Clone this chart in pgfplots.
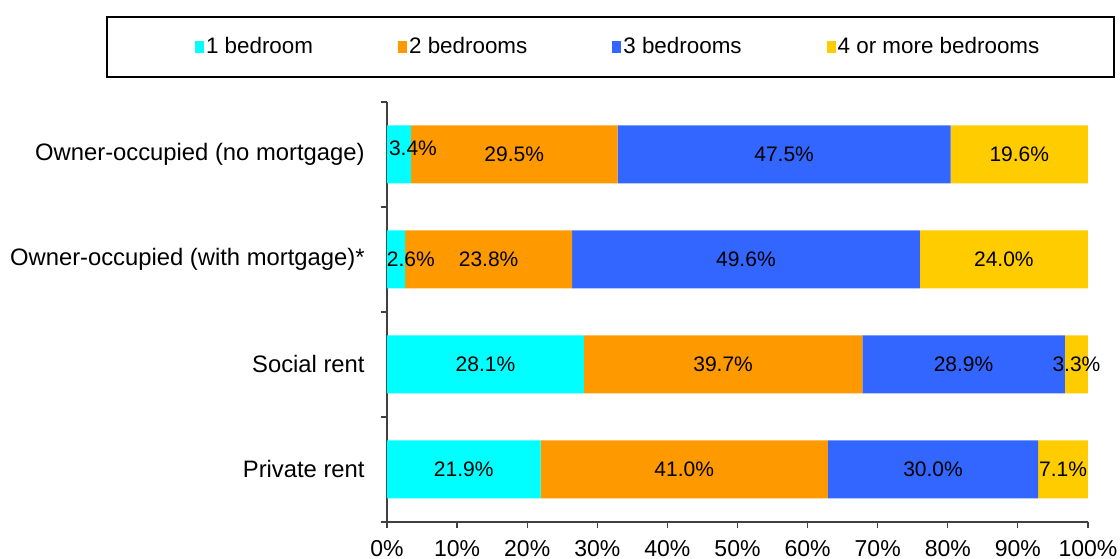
\documentclass[border=0pt]{standalone}
\usepackage{pgfplots}
\usepackage{pgfplotstable}
\pgfplotsset{compat=1.18}
\usepackage{fontspec}
\setmainfont{Liberation Sans}
\definecolor{c1}{RGB}{0,255,255}
\definecolor{c2}{RGB}{255,153,0}
\definecolor{c3}{RGB}{51,102,255}
\definecolor{c4}{RGB}{255,204,0}
\pgfplotsset{sq/.style={legend image code/.code={\fill[##1] (0pt,-3pt) rectangle (4.5pt,3pt);}}}
\pgfplotstableread{
y one two three four
0 21.9 41.0 30.0 7.1
1 28.1 39.7 28.9 3.3
2 2.6 23.8 49.6 24.0
3 3.4 29.5 47.5 19.6
}\data
\pgfplotstableread{
x y label
3.7 3.06 3.4\%
18.15 3 29.5\%
56.65 3 47.5\%
90.2 3 19.6\%
3.4 2 2.6\%
14.5 2 23.8\%
51.2 2 49.6\%
88.0 2 24.0\%
14.05 1 28.1\%
47.95 1 39.7\%
82.25 1 28.9\%
98.35 1 3.3\%
10.95 0 21.9\%
42.4 0 41.0\%
77.9 0 30.0\%
96.45 0 7.1\%
}\labels
\begin{document}
\begin{tikzpicture}
\begin{axis}[
  name=main,
  scale only axis, width=350.5pt, height=210pt,
  xbar stacked, bar width=29pt,
  xmin=0, xmax=100, ymin=-0.5, ymax=3.5,
  clip=false,
  axis x line*=bottom, axis y line*=left,
  axis line style={-, black!75, line width=0.6pt},
  xtick={0,10,...,100},
  xticklabels={0\%,10\%,20\%,30\%,40\%,50\%,60\%,70\%,80\%,90\%,100\%},
  ytick={0,1,2,3},
  yticklabels={Private rent, Social rent, Owner-occupied (with mortgage)*, Owner-occupied (no mortgage)},
  major y tick style={draw=none},
  minor ytick={-0.5,0.5,1.5,2.5,3.5},
  tick align=outside, major tick length=3pt, minor tick length=3pt,
  every tick/.style={black!75, line width=0.6pt},
  xticklabel style={font=\fontsize{11.5}{13}\selectfont, inner sep=0pt, yshift=-6pt},
  yticklabel style={font=\fontsize{11.9}{14}\selectfont, inner sep=0pt, xshift=-8pt},
  legend style={draw=none, fill=none, at={(-0.283,1.131)}, anchor=west,
    font=\fontsize{11.2}{13}\selectfont, legend columns=4,
    /tikz/every even column/.append style={column sep=41.5pt},
    nodes={inner sep=1pt}},
]
\addplot[fill=c1, draw=none, sq] table[x=one, y=y]{\data};
\addlegendentry{1 bedroom}
\addplot[fill=c2, draw=none, sq] table[x=two, y=y]{\data};
\addlegendentry{2 bedrooms}
\addplot[fill=c3, draw=none, sq] table[x=three, y=y]{\data};
\addlegendentry{3 bedrooms}
\addplot[fill=c4, draw=none, sq] table[x=four, y=y]{\data};
\addlegendentry{4 or more bedrooms}
\draw[black, line width=0.6pt] (rel axis cs:-0.3994,1.2024) rectangle (rel axis cs:1.0371,1.0595);
\end{axis}
\begin{axis}[
  scale only axis, width=350.5pt, height=210pt,
  xmin=0, xmax=100, ymin=-0.5, ymax=3.5,
  hide axis, clip=false,
]
\addplot[only marks, mark=none, nodes near coords, point meta=explicit symbolic,
  nodes near coords style={anchor=center, inner sep=0pt, text=black, font=\fontsize{10.5}{12}\selectfont}]
  table[x=x, y=y, meta=label]{\labels};
\end{axis}
\pgfresetboundingbox
\path[use as bounding box] ([shift={(-193.5pt,-18.5pt)}]main.south west) rectangle ([shift={(16pt,51pt)}]main.north east);
\end{tikzpicture}
\end{document}
